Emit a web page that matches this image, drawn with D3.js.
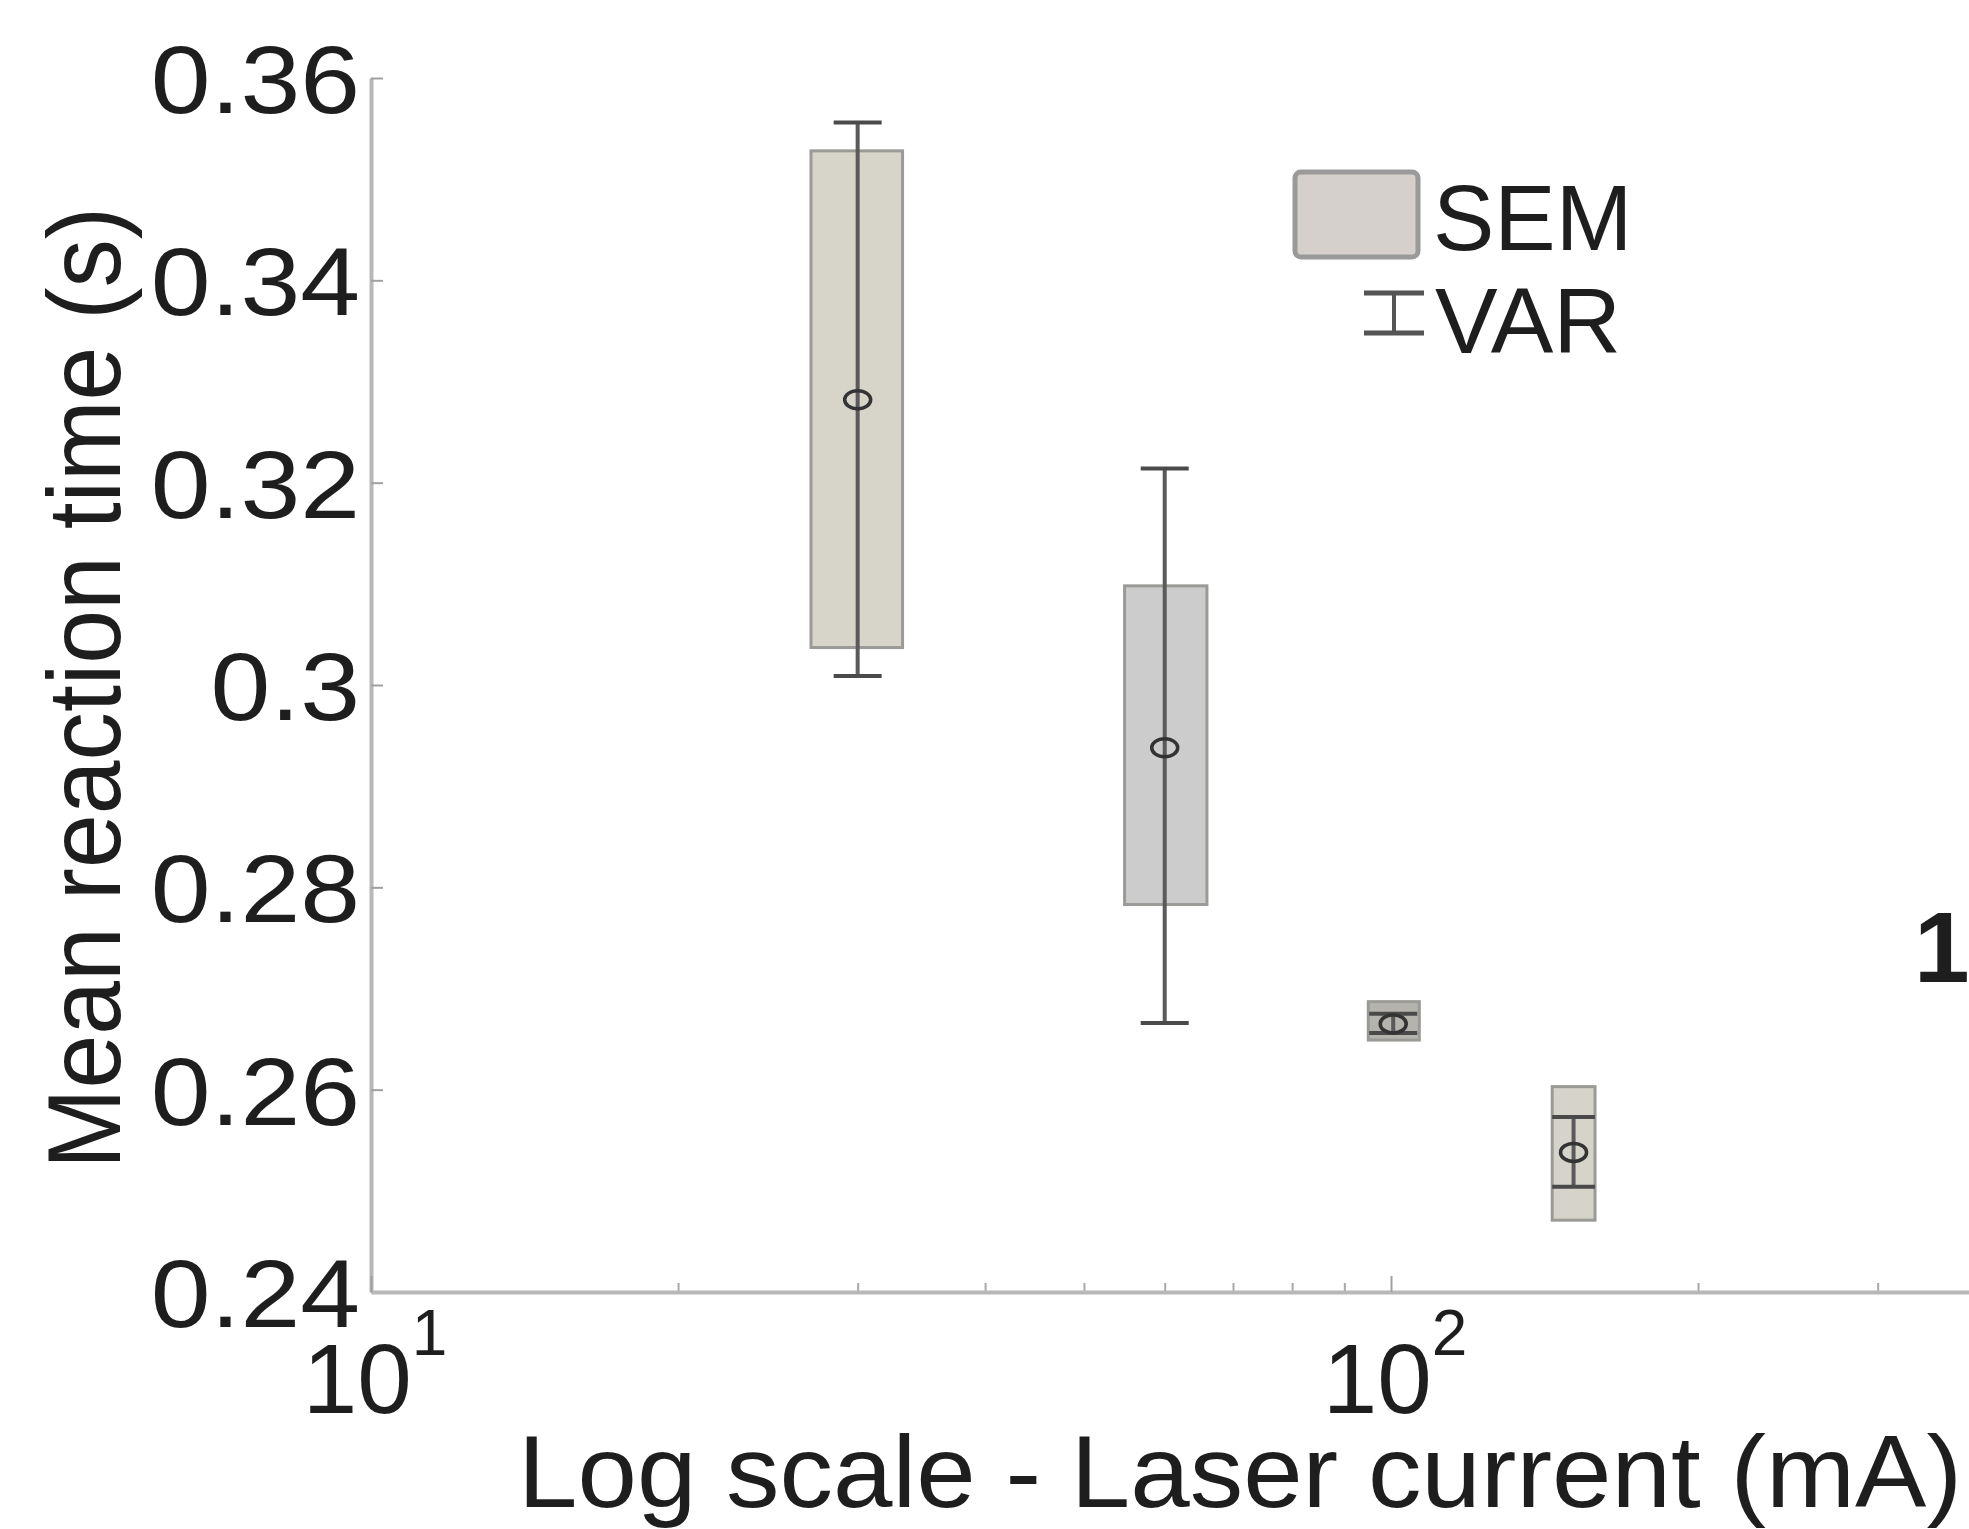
<!DOCTYPE html>
<html>
<head>
<meta charset="utf-8">
<script src="https://cdn.jsdelivr.net/npm/d3@7"></script>
<style>
  body { margin: 0; background: #fff; }
  svg { display: block; }
  text { font-family: "Liberation Sans", Arial, Helvetica, sans-serif; fill: #1e1e1e; }
</style>
</head>
<body>
<div id="chart"></div>
<script>
// laser current (mA) at each box, plus the box's left/right extent
const currents = [30, 60, 100.5, 151];
const currentLo = [27, 54.8, 95, 143.9];
const currentHi = [33.2, 66, 106.6, 158.5];

// mean reaction time (s), SEM box and VAR whisker limits
const meanRT = [0.3282, 0.2938, 0.2665, 0.2538];
const semLo = [0.3037, 0.2783, 0.2649, 0.2471];
const semHi = [0.3528, 0.3098, 0.2687, 0.2603];
const varLo = [0.3009, 0.2666, 0.2656, 0.2504];
const varHi = [0.3556, 0.3214, 0.2675, 0.2573];

const yTicks = [0.24, 0.26, 0.28, 0.3, 0.32, 0.34, 0.36];
const yTickLabels = ["0.24", "0.26", "0.28", "0.3", "0.32", "0.34", "0.36"];
const xMajorTicks = [10, 100];
const xMajorExponents = ["1", "2"];
const xMinorTicks = [20, 30, 40, 50, 60, 70, 80, 90, 200, 300, 400, 500, 600, 700, 800, 900];

const boxFills = ["#d7d4c9", "#cccccc", "#b4b3ae", "#d6d4ca"];

const W = 1969, H = 1529;
const svg = d3.select("#chart").append("svg")
  .attr("width", W)
  .attr("height", H);

svg.append("rect").attr("width", W).attr("height", H).attr("fill", "#fff");

const x = d3.scaleLog().domain([10, 1000]).range([371, 371 + 2040]);
const y = d3.scaleLinear().domain([0.24, 0.36]).range([1292, 78]);

const axisColor = "#b8b8b8";

// y axis, ticks pointing inward
const yAxis = svg.append("g")
  .attr("transform", `translate(${x(10)},0)`)
  .call(d3.axisLeft(y).tickValues(yTicks).tickSize(-12).tickSizeOuter(0).tickPadding(11)
    .tickFormat((d, i) => yTickLabels[i]));
yAxis.select(".domain").attr("stroke", axisColor).attr("stroke-width", 4);
yAxis.selectAll(".tick line").attr("stroke", "#a0a0a0").attr("stroke-width", 2);
yAxis.selectAll(".tick text")
  .attr("font-size", 96)
  .attr("dy", "0.36em")
  .style("fill", "#1e1e1e")
  .each(function () {
    // the reference digits are a little wider than Liberation Sans
    const w = this.getComputedTextLength();
    d3.select(this).attr("textLength", w * 1.12).attr("lengthAdjust", "spacingAndGlyphs");
  });

// x axis minor ticks
const xMinor = svg.append("g")
  .attr("transform", `translate(0,${y(0.24)})`)
  .call(d3.axisBottom(x).tickValues(xMinorTicks).tickSize(-9).tickSizeOuter(0).tickFormat(""));
xMinor.select(".domain").remove();
xMinor.selectAll(".tick line").attr("stroke", "#a8a8a8").attr("stroke-width", 2);

// x axis major ticks and line
const xMajor = svg.append("g")
  .attr("transform", `translate(0,${y(0.24)})`)
  .call(d3.axisBottom(x).tickValues(xMajorTicks).tickSize(-16).tickSizeOuter(0).tickFormat(""));
xMajor.select(".domain").attr("stroke", axisColor).attr("stroke-width", 4);
xMajor.selectAll(".tick line").attr("stroke", "#a0a0a0").attr("stroke-width", 2);

// 10^n labels
xMajorTicks.forEach((v, i) => {
  const t = svg.append("text")
    .attr("x", x(v) + 4)
    .attr("y", 1413)
    .attr("text-anchor", "middle")
    .attr("font-size", 98);
  t.append("tspan").text("10");
  t.append("tspan")
    .attr("font-size", 64)
    .attr("dy", -58)
    .text(xMajorExponents[i]);
});

// SEM boxes
const g = svg.append("g");
currents.forEach((c, i) => {
  const x0 = x(currentLo[i]), x1 = x(currentHi[i]);
  g.append("rect")
    .attr("x", x0)
    .attr("y", y(semHi[i]))
    .attr("width", x1 - x0)
    .attr("height", y(semLo[i]) - y(semHi[i]))
    .attr("fill", boxFills[i])
    .attr("stroke", "#9a9a96")
    .attr("stroke-width", 3);
});

// VAR whiskers
currents.forEach((c, i) => {
  const cx = x(c);
  const capHalf = Math.min(24, (x(currentHi[i]) - x(currentLo[i])) / 2);
  g.append("line")
    .attr("x1", cx).attr("x2", cx)
    .attr("y1", y(varHi[i])).attr("y2", y(varLo[i]))
    .attr("stroke", "#5a5a5a").attr("stroke-width", 4);
  [varHi[i], varLo[i]].forEach(v => {
    g.append("line")
      .attr("x1", cx - capHalf).attr("x2", cx + capHalf)
      .attr("y1", y(v)).attr("y2", y(v))
      .attr("stroke", "#4a4a4a").attr("stroke-width", 4);
  });
  g.append("ellipse")
    .attr("cx", cx).attr("cy", y(meanRT[i]))
    .attr("rx", 13).attr("ry", 9)
    .attr("fill", "none")
    .attr("stroke", "#333")
    .attr("stroke-width", 3.5);
});

// legend
const leg = svg.append("g");
leg.append("rect")
  .attr("x", 1295).attr("y", 172)
  .attr("width", 123).attr("height", 85)
  .attr("rx", 6)
  .attr("fill", "#d5d0cb")
  .attr("stroke", "#9a9a9a")
  .attr("stroke-width", 5);
leg.append("text").attr("x", 1433).attr("y", 250).attr("font-size", 92).text("SEM");
leg.append("line").attr("x1", 1394).attr("x2", 1394).attr("y1", 293).attr("y2", 333)
  .attr("stroke", "#555").attr("stroke-width", 4);
[293, 333].forEach(yy => {
  leg.append("line").attr("x1", 1364).attr("x2", 1424).attr("y1", yy).attr("y2", yy)
    .attr("stroke", "#555").attr("stroke-width", 5);
});
leg.append("text").attr("x", 1435).attr("y", 353).attr("font-size", 92)
  .attr("textLength", 186).attr("lengthAdjust", "spacingAndGlyphs").text("VAR");

// axis titles
svg.append("text")
  .attr("x", 518).attr("y", 1507)
  .attr("font-size", 102)
  .attr("textLength", 1444)
  .attr("lengthAdjust", "spacingAndGlyphs")
  .text("Log scale - Laser current (mA)");

svg.append("text")
  .attr("transform", "translate(120,688) rotate(-90)")
  .attr("text-anchor", "middle")
  .attr("font-size", 104)
  .attr("textLength", 962)
  .attr("lengthAdjust", "spacingAndGlyphs")
  .text("Mean reaction time (s)");

// cut-off panel label at the right edge
svg.append("text")
  .attr("x", 1914).attr("y", 982)
  .attr("font-size", 100)
  .attr("font-weight", "bold")
  .text("1");
</script>
</body>
</html>
